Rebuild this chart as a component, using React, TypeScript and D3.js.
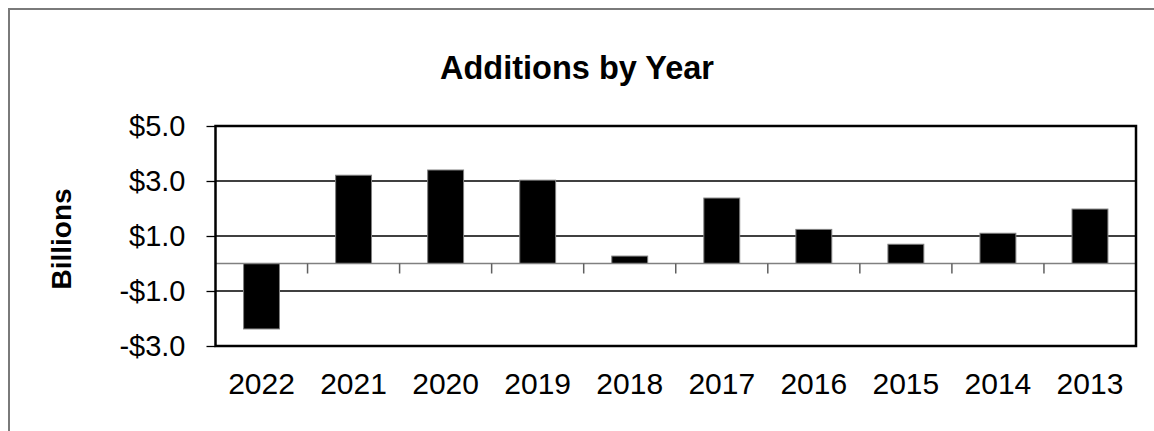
import { useEffect, useRef } from "react";
import * as d3 from "d3";

const years = ["2022", "2021", "2020", "2019", "2018", "2017", "2016", "2015", "2014", "2013"];
const additions = [-2.38, 3.21, 3.4, 3.03, 0.27, 2.38, 1.24, 0.7, 1.1, 1.98];
const yTicks = [5, 3, 1, -1, -3];

const WIDTH = 1154;
const HEIGHT = 431;
const FONT = "'Liberation Sans', Arial, sans-serif";

export default function App() {
	const svgRef = useRef<SVGSVGElement>(null);

	useEffect(() => {
		if (!svgRef.current) return;
		const svg = d3.select(svgRef.current);
		svg.selectAll("*").remove();

		const plot = { left: 215.5, right: 1136, top: 126, bottom: 346 };

		// outer chart border (only top and left are inside the picture)
		svg.append("rect")
			.attr("x", 9)
			.attr("y", 9)
			.attr("width", WIDTH + 20)
			.attr("height", HEIGHT + 20)
			.attr("fill", "white")
			.attr("stroke", "#7a7a7a")
			.attr("stroke-width", 2);

		const xScale = d3
			.scaleBand<string>()
			.domain(years)
			.range([plot.left, plot.right])
			.paddingInner(0.61)
			.paddingOuter(0.305);

		const yScale = d3
			.scaleLinear()
			.domain([-3, 5])
			.range([plot.bottom, plot.top]);

		// gridlines
		svg.append("g")
			.selectAll("line")
			.data(yTicks.filter((d) => d !== 5 && d !== -3))
			.join("line")
			.attr("x1", plot.left)
			.attr("x2", plot.right)
			.attr("y1", (d) => yScale(d))
			.attr("y2", (d) => yScale(d))
			.attr("stroke", "black")
			.attr("stroke-width", 1.3);

		// y axis with tick labels
		const yAxis = d3
			.axisLeft(yScale)
			.tickValues(yTicks)
			.tickSize(9)
			.tickPadding(21)
			.tickFormat((d) => {
				const v = d as number;
				return `${v < 0 ? "-" : ""}$${Math.abs(v).toFixed(1)}`;
			});

		svg.append("g")
			.attr("transform", `translate(${plot.left},0)`)
			.call(yAxis)
			.call((g) => g.select(".domain").remove())
			.call((g) => g.selectAll(".tick line").attr("stroke", "black").attr("stroke-width", 1.3))
			.call((g) =>
				g
					.selectAll(".tick text")
					.attr("fill", "black")
					.attr("font-size", "29px")
					.attr("font-family", FONT)
			);

		// bars
		svg.append("g")
			.selectAll("rect")
			.data(additions)
			.join("rect")
			.attr("x", (_, i) => xScale(years[i]) ?? 0)
			.attr("width", xScale.bandwidth())
			.attr("y", (d) => yScale(Math.max(0, d)))
			.attr("height", (d) => Math.abs(yScale(d) - yScale(0)))
			.attr("fill", "black")
			.attr("stroke", "#808080")
			.attr("stroke-width", 1);

		// zero axis and category separators
		const y0 = yScale(0);
		svg.append("line")
			.attr("x1", plot.left)
			.attr("x2", plot.right)
			.attr("y1", y0)
			.attr("y2", y0)
			.attr("stroke", "#808080")
			.attr("stroke-width", 1.5);

		const step = xScale.step();
		svg.append("g")
			.selectAll("line")
			.data(years.slice(1))
			.join("line")
			.attr("x1", (d) => (xScale(d) ?? 0) - (step - xScale.bandwidth()) / 2)
			.attr("x2", (d) => (xScale(d) ?? 0) - (step - xScale.bandwidth()) / 2)
			.attr("y1", y0)
			.attr("y2", y0 + 10)
			.attr("stroke", "#606060")
			.attr("stroke-width", 1.5);

		// category labels
		svg.append("g")
			.selectAll("text")
			.data(years)
			.join("text")
			.attr("x", (d) => (xScale(d) ?? 0) + xScale.bandwidth() / 2)
			.attr("y", 394)
			.attr("text-anchor", "middle")
			.attr("font-size", "30px")
			.attr("font-family", FONT)
			.attr("fill", "black")
			.text((d) => d);

		// plot frame
		svg.append("rect")
			.attr("x", plot.left)
			.attr("y", plot.top)
			.attr("width", plot.right - plot.left)
			.attr("height", plot.bottom - plot.top)
			.attr("fill", "none")
			.attr("stroke", "black")
			.attr("stroke-width", 2.5);

		// title
		svg.append("text")
			.attr("x", 577)
			.attr("y", 79)
			.attr("text-anchor", "middle")
			.attr("font-size", "32.5px")
			.attr("font-weight", "bold")
			.attr("font-family", FONT)
			.text("Additions by Year");

		// y axis title
		svg.append("text")
			.attr("transform", `translate(71,239) rotate(-90)`)
			.attr("text-anchor", "middle")
			.attr("font-size", "28px")
			.attr("font-weight", "bold")
			.attr("font-family", FONT)
			.text("Billions");
	}, []);

	return (
		<svg
			ref={svgRef}
			width={WIDTH}
			height={HEIGHT}
			style={{ position: "absolute", left: 0, top: 0, background: "white" }}
		/>
	);
}
